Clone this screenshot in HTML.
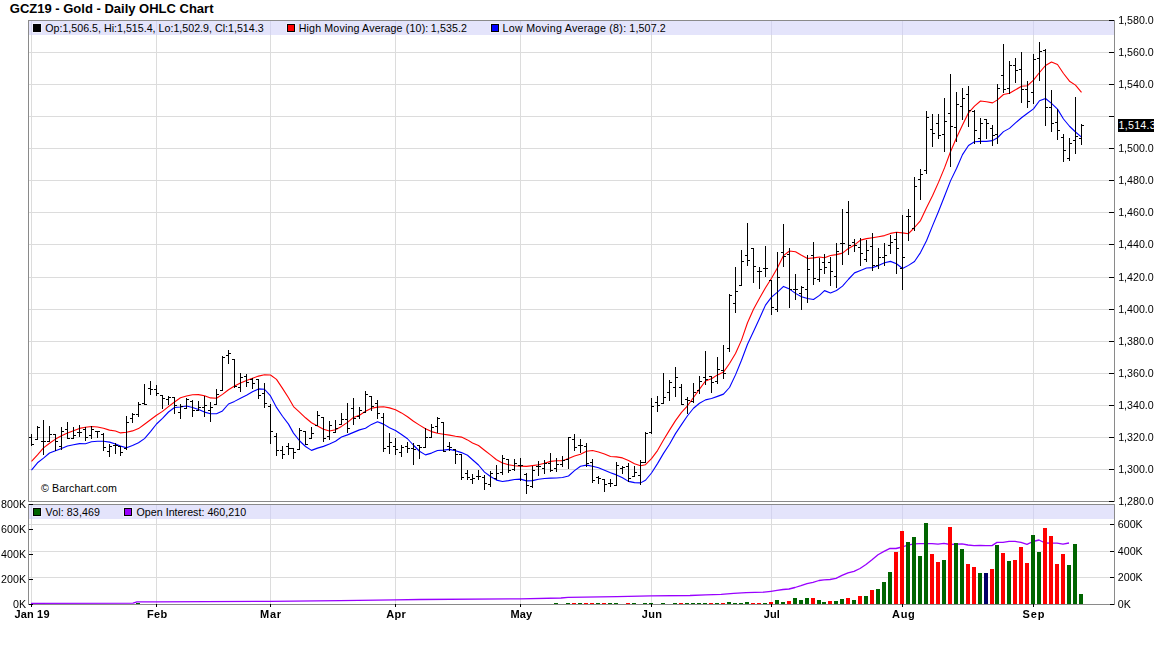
<!DOCTYPE html>
<html><head><meta charset="utf-8"><title>GCZ19 - Gold - Daily OHLC Chart</title>
<style>html,body{margin:0;padding:0;background:#fff;width:1156px;height:645px;overflow:hidden}</style>
</head><body>
<svg width="1156" height="645" viewBox="0 0 1156 645" style="display:block"><rect width="1156" height="645" fill="#fff"/><rect x="29" y="52" width="1085" height="1" fill="#dcdcdc"/><rect x="29" y="84" width="1085" height="1" fill="#dcdcdc"/><rect x="29" y="116" width="1085" height="1" fill="#dcdcdc"/><rect x="29" y="148" width="1085" height="1" fill="#dcdcdc"/><rect x="29" y="180" width="1085" height="1" fill="#dcdcdc"/><rect x="29" y="212" width="1085" height="1" fill="#dcdcdc"/><rect x="29" y="244" width="1085" height="1" fill="#dcdcdc"/><rect x="29" y="277" width="1085" height="1" fill="#dcdcdc"/><rect x="29" y="309" width="1085" height="1" fill="#dcdcdc"/><rect x="29" y="341" width="1085" height="1" fill="#dcdcdc"/><rect x="29" y="373" width="1085" height="1" fill="#dcdcdc"/><rect x="29" y="405" width="1085" height="1" fill="#dcdcdc"/><rect x="29" y="437" width="1085" height="1" fill="#dcdcdc"/><rect x="29" y="469" width="1085" height="1" fill="#dcdcdc"/><rect x="31" y="21" width="1" height="480" fill="#dcdcdc"/><rect x="156" y="21" width="1" height="480" fill="#dcdcdc"/><rect x="270" y="21" width="1" height="480" fill="#dcdcdc"/><rect x="395" y="21" width="1" height="480" fill="#dcdcdc"/><rect x="520" y="21" width="1" height="480" fill="#dcdcdc"/><rect x="651" y="21" width="1" height="480" fill="#dcdcdc"/><rect x="771" y="21" width="1" height="480" fill="#dcdcdc"/><rect x="902" y="21" width="1" height="480" fill="#dcdcdc"/><rect x="1033" y="21" width="1" height="480" fill="#dcdcdc"/><rect x="29" y="21" width="1085" height="14" fill="#e4e4fb"/><rect x="31" y="21" width="1" height="14" fill="#d4d4ee"/><rect x="156" y="21" width="1" height="14" fill="#d4d4ee"/><rect x="270" y="21" width="1" height="14" fill="#d4d4ee"/><rect x="395" y="21" width="1" height="14" fill="#d4d4ee"/><rect x="520" y="21" width="1" height="14" fill="#d4d4ee"/><rect x="651" y="21" width="1" height="14" fill="#d4d4ee"/><rect x="771" y="21" width="1" height="14" fill="#d4d4ee"/><rect x="902" y="21" width="1" height="14" fill="#d4d4ee"/><rect x="1033" y="21" width="1" height="14" fill="#d4d4ee"/><rect x="32" y="23" width="10" height="10" fill="#efeffd"/><rect x="33" y="24" width="8" height="8" fill="#000"/><rect x="34" y="25" width="6" height="6" fill="#000"/><rect x="286" y="23" width="10" height="10" fill="#efeffd"/><rect x="287" y="24" width="8" height="8" fill="#000"/><rect x="288" y="25" width="6" height="6" fill="#ff0000"/><rect x="490" y="23" width="10" height="10" fill="#efeffd"/><rect x="491" y="24" width="8" height="8" fill="#000"/><rect x="492" y="25" width="6" height="6" fill="#0000ff"/><g style="font-family:'Liberation Sans',Arial,sans-serif;font-size:10.667px" fill="#000"><text x="45.2" y="32" textLength="218.4" lengthAdjust="spacing">Op:1,506.5, Hi:1,515.4, Lo:1,502.9, Cl:1,514.3</text><text x="298.7" y="32" textLength="129.6" lengthAdjust="spacing">High Moving Average (10):</text><text x="430.8" y="32" textLength="36.2" lengthAdjust="spacing">1,535.2</text><text x="502.6" y="32" textLength="123.5" lengthAdjust="spacing">Low Moving Average (8):</text><text x="629.3" y="32" textLength="36.5" lengthAdjust="spacing">1,507.2</text><text x="40.9" y="492" textLength="76.0" lengthAdjust="spacing">© Barchart.com</text></g><g clip-path="url(#pc)"><polyline points="31.5,461.40 37.5,454.90 43.5,447.90 49.5,443.30 55.5,439.10 61.5,435.80 67.5,433.00 73.5,430.70 79.5,428.40 85.5,427.30 91.5,426.50 97.5,427.00 103.5,428.30 109.5,430.10 115.5,431.00 120.5,432.90 126.5,432.30 132.5,430.90 138.5,428.60 144.5,424.30 150.5,419.80 156.5,415.20 162.5,411.40 168.5,406.60 174.5,402.00 180.5,397.80 186.5,396.00 192.5,394.70 198.5,394.60 204.5,395.80 210.5,397.90 216.5,398.30 222.5,394.40 228.5,389.80 234.5,386.00 240.5,382.90 246.5,380.50 252.5,378.30 258.5,376.10 264.5,374.80 270.5,375.00 276.5,379.40 282.5,388.40 288.5,397.70 293.5,406.60 299.5,412.10 305.5,417.80 311.5,422.70 317.5,425.90 323.5,429.30 329.5,431.00 335.5,429.70 341.5,426.40 347.5,422.40 353.5,417.40 359.5,415.30 365.5,411.30 371.5,408.20 377.5,407.10 383.5,406.70 389.5,407.90 395.5,409.70 401.5,412.90 407.5,416.80 413.5,421.30 419.5,425.10 425.5,428.80 431.5,431.60 437.5,433.30 443.5,434.20 449.5,435.10 455.5,436.20 461.5,437.10 467.5,439.90 472.5,443.00 478.5,445.50 484.5,450.20 490.5,454.90 496.5,459.70 502.5,463.00 508.5,464.70 514.5,465.70 520.5,466.10 526.5,466.40 532.5,465.60 538.5,464.70 544.5,463.20 550.5,461.40 556.5,460.70 562.5,460.80 568.5,458.60 574.5,456.10 580.5,454.20 586.5,451.20 592.5,450.50 598.5,452.00 604.5,453.90 610.5,456.50 616.5,456.90 622.5,457.90 628.5,460.50 634.5,463.70 640.5,465.80 645.5,464.70 651.5,458.60 657.5,450.60 663.5,440.00 669.5,430.10 675.5,420.60 681.5,412.40 687.5,405.80 693.5,397.50 699.5,389.10 705.5,381.00 711.5,378.80 717.5,374.90 723.5,372.10 729.5,363.50 735.5,353.50 741.5,340.10 747.5,322.70 753.5,309.20 759.5,298.30 765.5,287.80 771.5,278.20 777.5,267.70 783.5,255.60 789.5,251.00 795.5,251.70 801.5,255.30 807.5,258.50 813.5,257.90 819.5,257.00 824.5,257.80 830.5,255.50 836.5,254.60 842.5,253.10 848.5,248.40 854.5,244.90 860.5,240.10 866.5,238.60 872.5,237.70 878.5,236.70 884.5,235.60 890.5,233.40 896.5,232.30 902.5,232.90 908.5,233.70 914.5,227.50 920.5,220.60 926.5,207.70 932.5,195.80 938.5,182.40 944.5,167.90 950.5,151.80 956.5,137.80 962.5,125.10 968.5,112.80 974.5,106.10 980.5,101.00 986.5,101.80 992.5,102.90 997.5,99.90 1003.5,94.50 1009.5,93.20 1015.5,89.80 1021.5,86.20 1027.5,85.70 1033.5,80.10 1039.5,72.50 1045.5,65.50 1051.5,62.00 1057.5,64.50 1063.5,73.50 1069.5,81.20 1075.5,85.10 1081.5,92.30" fill="none" stroke="#ff0000" stroke-width="1.1" stroke-linejoin="round"/><polyline points="31.5,470.20 37.5,462.80 43.5,458.10 49.5,453.00 55.5,450.70 61.5,448.40 67.5,446.00 73.5,444.75 79.5,443.62 85.5,443.75 91.5,441.75 97.5,441.25 103.5,441.25 109.5,442.12 115.5,444.00 120.5,446.12 126.5,447.75 132.5,445.50 138.5,442.75 144.5,438.62 150.5,431.62 156.5,424.00 162.5,418.38 168.5,412.00 174.5,407.50 180.5,407.00 186.5,406.00 192.5,407.50 198.5,409.50 204.5,412.12 210.5,413.75 216.5,413.75 222.5,410.88 228.5,404.00 234.5,401.38 240.5,398.25 246.5,395.25 252.5,391.75 258.5,388.88 264.5,389.25 270.5,395.88 276.5,407.38 282.5,416.25 288.5,424.12 293.5,433.12 299.5,440.75 305.5,446.50 311.5,450.38 317.5,448.12 323.5,446.38 329.5,444.00 335.5,441.25 341.5,437.00 347.5,434.88 353.5,432.38 359.5,429.88 365.5,428.25 371.5,424.38 377.5,421.75 383.5,424.12 389.5,427.75 395.5,430.50 401.5,434.50 407.5,438.75 413.5,445.25 419.5,451.25 425.5,454.88 431.5,453.12 437.5,450.50 443.5,450.12 449.5,449.38 455.5,450.75 461.5,452.62 467.5,455.25 472.5,459.75 478.5,465.00 484.5,472.12 490.5,476.50 496.5,480.12 502.5,481.50 508.5,480.62 514.5,479.50 520.5,479.12 526.5,480.88 532.5,480.62 538.5,479.25 544.5,478.50 550.5,478.12 556.5,478.00 562.5,477.50 568.5,476.00 574.5,470.62 580.5,466.25 586.5,465.12 592.5,466.25 598.5,467.75 604.5,470.25 610.5,472.75 616.5,474.88 622.5,477.75 628.5,481.38 634.5,482.62 640.5,482.88 645.5,480.25 651.5,473.00 657.5,463.62 663.5,453.38 669.5,444.25 675.5,433.62 681.5,424.62 687.5,415.75 693.5,408.25 699.5,403.25 705.5,399.88 711.5,398.50 717.5,396.38 723.5,394.12 729.5,387.50 735.5,374.88 741.5,360.25 747.5,344.25 753.5,331.50 759.5,318.50 765.5,305.12 771.5,297.12 777.5,292.12 783.5,286.38 789.5,289.12 795.5,293.38 801.5,296.75 807.5,298.50 813.5,299.50 819.5,295.38 824.5,290.62 830.5,293.00 836.5,290.50 842.5,286.12 848.5,279.25 854.5,272.88 860.5,270.50 866.5,268.00 872.5,267.62 878.5,265.50 884.5,262.75 890.5,261.38 896.5,263.75 902.5,268.50 908.5,265.38 914.5,261.50 920.5,252.62 926.5,240.75 932.5,225.88 938.5,211.50 944.5,196.25 950.5,180.88 956.5,168.50 962.5,154.62 968.5,145.50 974.5,141.75 980.5,141.38 986.5,141.38 992.5,140.62 997.5,137.75 1003.5,131.62 1009.5,128.38 1015.5,122.88 1021.5,117.75 1027.5,113.25 1033.5,108.88 1039.5,100.75 1045.5,98.50 1051.5,103.38 1057.5,109.12 1063.5,119.00 1069.5,126.25 1075.5,132.00 1081.5,137.12" fill="none" stroke="#0000ff" stroke-width="1.1" stroke-linejoin="round"/></g><path d="M31 434h1v12h-1zM29 437h2v1h-2zM32 444h2v1h-2zM37 426h1v14h-1zM35 439h2v1h-2zM38 427h2v1h-2zM43 420h1v35h-1zM41 441h2v1h-2zM44 441h2v1h-2zM49 426h1v16h-1zM47 441h2v1h-2zM50 434h2v1h-2zM55 434h1v17h-1zM53 434h2v1h-2zM56 441h2v1h-2zM61 427h1v23h-1zM59 446h2v1h-2zM62 431h2v1h-2zM67 422h1v17h-1zM65 429h2v1h-2zM68 438h2v1h-2zM73 427h1v12h-1zM71 438h2v1h-2zM74 435h2v1h-2zM79 425h1v12h-1zM77 432h2v1h-2zM80 432h2v1h-2zM85 427h1v14h-1zM83 429h2v1h-2zM86 437h2v1h-2zM91 426h1v13h-1zM89 435h2v1h-2zM92 429h2v1h-2zM97 431h1v7h-1zM95 431h2v1h-2zM98 431h2v1h-2zM103 433h1v18h-1zM101 434h2v1h-2zM104 447h2v1h-2zM109 444h1v13h-1zM107 451h2v1h-2zM110 446h2v1h-2zM115 443h1v11h-1zM113 445h2v1h-2zM116 445h2v1h-2zM120 446h1v10h-1zM118 446h2v1h-2zM121 452h2v1h-2zM126 416h1v34h-1zM124 448h2v1h-2zM127 422h2v1h-2zM132 413h1v10h-1zM130 418h2v1h-2zM133 414h2v1h-2zM138 402h1v15h-1zM136 414h2v1h-2zM139 404h2v1h-2zM144 384h1v21h-1zM142 403h2v1h-2zM145 404h2v1h-2zM150 381h1v14h-1zM148 388h2v1h-2zM151 389h2v1h-2zM156 385h1v11h-1zM154 389h2v1h-2zM157 393h2v1h-2zM162 395h1v14h-1zM160 395h2v1h-2zM163 398h2v1h-2zM168 396h1v9h-1zM166 399h2v1h-2zM169 397h2v1h-2zM174 397h1v17h-1zM172 397h2v1h-2zM175 405h2v1h-2zM180 404h1v15h-1zM178 412h2v1h-2zM181 406h2v1h-2zM186 398h1v11h-1zM184 408h2v1h-2zM187 399h2v1h-2zM192 400h1v17h-1zM190 401h2v1h-2zM193 410h2v1h-2zM198 401h1v10h-1zM196 410h2v1h-2zM199 407h2v1h-2zM204 396h1v21h-1zM202 407h2v1h-2zM205 405h2v1h-2zM210 402h1v20h-1zM208 410h2v1h-2zM211 407h2v1h-2zM216 389h1v16h-1zM214 404h2v1h-2zM217 394h2v1h-2zM222 356h1v35h-1zM220 390h2v1h-2zM223 357h2v1h-2zM228 350h1v14h-1zM226 355h2v1h-2zM229 353h2v1h-2zM234 359h1v29h-1zM232 359h2v1h-2zM235 386h2v1h-2zM240 373h1v19h-1zM238 387h2v1h-2zM241 377h2v1h-2zM246 374h1v13h-1zM244 376h2v1h-2zM247 382h2v1h-2zM252 378h1v11h-1zM250 379h2v1h-2zM253 383h2v1h-2zM258 379h1v20h-1zM256 379h2v1h-2zM259 395h2v1h-2zM264 383h1v25h-1zM262 393h2v1h-2zM265 403h2v1h-2zM270 404h1v40h-1zM268 406h2v1h-2zM271 431h2v1h-2zM276 433h1v23h-1zM274 436h2v1h-2zM277 450h2v1h-2zM282 446h1v13h-1zM280 450h2v1h-2zM283 454h2v1h-2zM288 443h1v12h-1zM286 446h2v1h-2zM289 448h2v1h-2zM293 448h1v11h-1zM291 448h2v1h-2zM294 452h2v1h-2zM299 428h1v22h-1zM297 449h2v1h-2zM300 430h2v1h-2zM305 431h1v14h-1zM303 431h2v1h-2zM306 444h2v1h-2zM311 427h1v12h-1zM309 438h2v1h-2zM312 433h2v1h-2zM317 411h1v15h-1zM315 425h2v1h-2zM318 415h2v1h-2zM323 417h1v25h-1zM321 417h2v1h-2zM324 438h2v1h-2zM329 421h1v19h-1zM327 436h2v1h-2zM330 425h2v1h-2zM335 420h1v13h-1zM333 432h2v1h-2zM336 428h2v1h-2zM341 413h1v12h-1zM339 424h2v1h-2zM342 419h2v1h-2zM347 403h1v30h-1zM345 419h2v1h-2zM348 428h2v1h-2zM353 398h1v27h-1zM351 408h2v1h-2zM354 418h2v1h-2zM359 407h1v12h-1zM357 416h2v1h-2zM360 410h2v1h-2zM365 391h1v22h-1zM363 412h2v1h-2zM366 394h2v1h-2zM371 396h1v15h-1zM369 396h2v1h-2zM372 406h2v1h-2zM377 400h1v19h-1zM375 403h2v1h-2zM378 413h2v1h-2zM383 413h1v39h-1zM381 417h2v1h-2zM384 448h2v1h-2zM389 433h1v21h-1zM387 446h2v1h-2zM390 442h2v1h-2zM395 438h1v17h-1zM393 446h2v1h-2zM396 449h2v1h-2zM401 445h1v12h-1zM399 452h2v1h-2zM402 447h2v1h-2zM407 442h1v11h-1zM405 446h2v1h-2zM408 448h2v1h-2zM413 443h1v22h-1zM411 448h2v1h-2zM414 449h2v1h-2zM419 445h1v14h-1zM417 445h2v1h-2zM420 447h2v1h-2zM425 428h1v20h-1zM423 447h2v1h-2zM426 437h2v1h-2zM431 424h1v14h-1zM429 437h2v1h-2zM432 427h2v1h-2zM437 417h1v16h-1zM435 426h2v1h-2zM438 418h2v1h-2zM443 422h1v30h-1zM441 422h2v1h-2zM444 451h2v1h-2zM449 442h1v9h-1zM447 446h2v1h-2zM450 447h2v1h-2zM455 449h1v15h-1zM453 449h2v1h-2zM456 454h2v1h-2zM461 454h1v26h-1zM459 454h2v1h-2zM462 477h2v1h-2zM467 470h1v10h-1zM465 473h2v1h-2zM468 477h2v1h-2zM472 474h1v10h-1zM470 479h2v1h-2zM473 478h2v1h-2zM478 470h1v10h-1zM476 476h2v1h-2zM479 476h2v1h-2zM484 475h1v15h-1zM482 477h2v1h-2zM485 483h2v1h-2zM490 471h1v16h-1zM488 484h2v1h-2zM491 473h2v1h-2zM496 465h1v15h-1zM494 478h2v1h-2zM497 473h2v1h-2zM502 455h1v20h-1zM500 472h2v1h-2zM503 458h2v1h-2zM508 459h1v14h-1zM506 459h2v1h-2zM509 470h2v1h-2zM514 459h1v12h-1zM512 469h2v1h-2zM515 463h2v1h-2zM520 458h1v23h-1zM518 465h2v1h-2zM521 465h2v1h-2zM526 473h1v21h-1zM524 474h2v1h-2zM527 485h2v1h-2zM532 466h1v22h-1zM530 486h2v1h-2zM533 470h2v1h-2zM538 461h1v15h-1zM536 466h2v1h-2zM539 466h2v1h-2zM544 460h1v14h-1zM542 468h2v1h-2zM545 463h2v1h-2zM550 453h1v19h-1zM548 463h2v1h-2zM551 470h2v1h-2zM556 458h1v14h-1zM554 468h2v1h-2zM557 464h2v1h-2zM562 456h1v11h-1zM560 464h2v1h-2zM563 460h2v1h-2zM568 437h1v32h-1zM566 459h2v1h-2zM569 437h2v1h-2zM574 434h1v17h-1zM572 439h2v1h-2zM575 447h2v1h-2zM580 439h1v14h-1zM578 445h2v1h-2zM581 445h2v1h-2zM586 443h1v24h-1zM584 446h2v1h-2zM587 463h2v1h-2zM592 459h1v24h-1zM590 462h2v1h-2zM593 480h2v1h-2zM598 476h1v8h-1zM596 477h2v1h-2zM599 478h2v1h-2zM604 479h1v13h-1zM602 479h2v1h-2zM605 484h2v1h-2zM610 479h1v8h-1zM608 483h2v1h-2zM611 483h2v1h-2zM616 462h1v24h-1zM614 485h2v1h-2zM617 465h2v1h-2zM622 466h1v8h-1zM620 468h2v1h-2zM623 467h2v1h-2zM628 463h1v19h-1zM626 466h2v1h-2zM629 478h2v1h-2zM634 466h1v11h-1zM632 476h2v1h-2zM635 472h2v1h-2zM640 460h1v25h-1zM638 475h2v1h-2zM641 462h2v1h-2zM645 432h1v31h-1zM643 462h2v1h-2zM646 433h2v1h-2zM651 398h1v36h-1zM649 432h2v1h-2zM652 406h2v1h-2zM657 396h1v16h-1zM655 402h2v1h-2zM658 405h2v1h-2zM663 373h1v31h-1zM661 403h2v1h-2zM664 397h2v1h-2zM669 380h1v21h-1zM667 392h2v1h-2zM670 382h2v1h-2zM675 367h1v30h-1zM673 387h2v1h-2zM676 377h2v1h-2zM681 384h1v21h-1zM679 387h2v1h-2zM682 404h2v1h-2zM687 397h1v17h-1zM685 399h2v1h-2zM688 400h2v1h-2zM693 383h1v20h-1zM691 401h2v1h-2zM694 392h2v1h-2zM699 376h1v18h-1zM697 390h2v1h-2zM700 381h2v1h-2zM705 351h1v34h-1zM703 377h2v1h-2zM706 379h2v1h-2zM711 376h1v17h-1zM709 376h2v1h-2zM712 382h2v1h-2zM717 357h1v27h-1zM715 381h2v1h-2zM718 369h2v1h-2zM723 345h1v34h-1zM721 370h2v1h-2zM724 373h2v1h-2zM729 294h1v58h-1zM727 348h2v1h-2zM730 295h2v1h-2zM735 267h1v46h-1zM733 303h2v1h-2zM736 291h2v1h-2zM741 250h1v36h-1zM739 285h2v1h-2zM742 261h2v1h-2zM747 223h1v43h-1zM745 255h2v1h-2zM748 260h2v1h-2zM753 248h1v35h-1zM751 248h2v1h-2zM754 266h2v1h-2zM759 267h1v22h-1zM757 271h2v1h-2zM760 271h2v1h-2zM765 246h1v31h-1zM763 268h2v1h-2zM766 268h2v1h-2zM771 280h1v35h-1zM769 280h2v1h-2zM772 307h2v1h-2zM777 252h1v60h-1zM775 309h2v1h-2zM778 277h2v1h-2zM783 224h1v43h-1zM781 252h2v1h-2zM784 256h2v1h-2zM789 248h1v60h-1zM787 254h2v1h-2zM790 289h2v1h-2zM795 274h1v26h-1zM793 289h2v1h-2zM796 289h2v1h-2zM801 286h1v24h-1zM799 293h2v1h-2zM802 287h2v1h-2zM807 255h1v48h-1zM805 289h2v1h-2zM808 269h2v1h-2zM813 242h1v43h-1zM811 255h2v1h-2zM814 278h2v1h-2zM819 258h1v24h-1zM817 279h2v1h-2zM820 269h2v1h-2zM824 254h1v20h-1zM822 262h2v1h-2zM825 267h2v1h-2zM830 257h1v29h-1zM828 262h2v1h-2zM831 271h2v1h-2zM836 243h1v45h-1zM834 276h2v1h-2zM837 251h2v1h-2zM842 209h1v56h-1zM840 243h2v1h-2zM843 243h2v1h-2zM848 201h1v54h-1zM846 212h2v1h-2zM849 245h2v1h-2zM854 239h1v13h-1zM852 242h2v1h-2zM855 245h2v1h-2zM860 238h1v28h-1zM858 247h2v1h-2zM861 253h2v1h-2zM866 240h1v22h-1zM864 259h2v1h-2zM867 250h2v1h-2zM872 233h1v38h-1zM870 246h2v1h-2zM873 265h2v1h-2zM878 248h1v21h-1zM876 265h2v1h-2zM879 257h2v1h-2zM884 243h1v23h-1zM882 257h2v1h-2zM885 255h2v1h-2zM890 235h1v19h-1zM888 245h2v1h-2zM891 242h2v1h-2zM896 232h1v42h-1zM894 239h2v1h-2zM897 248h2v1h-2zM902 215h1v75h-1zM900 268h2v1h-2zM903 257h2v1h-2zM908 209h1v32h-1zM906 216h2v1h-2zM909 216h2v1h-2zM914 177h1v54h-1zM912 228h2v1h-2zM915 186h2v1h-2zM920 169h1v31h-1zM918 179h2v1h-2zM921 174h2v1h-2zM926 111h1v63h-1zM924 170h2v1h-2zM927 117h2v1h-2zM932 114h1v33h-1zM930 129h2v1h-2zM933 133h2v1h-2zM938 114h1v25h-1zM936 123h2v1h-2zM939 135h2v1h-2zM944 98h1v54h-1zM942 134h2v1h-2zM945 121h2v1h-2zM950 74h1v93h-1zM948 113h2v1h-2zM951 126h2v1h-2zM956 92h1v50h-1zM954 127h2v1h-2zM957 104h2v1h-2zM962 88h1v32h-1zM960 106h2v1h-2zM963 98h2v1h-2zM968 86h1v41h-1zM966 94h2v1h-2zM969 110h2v1h-2zM974 110h1v34h-1zM972 111h2v1h-2zM975 130h2v1h-2zM980 118h1v26h-1zM978 138h2v1h-2zM981 123h2v1h-2zM986 119h1v20h-1zM984 119h2v1h-2zM987 123h2v1h-2zM992 125h1v21h-1zM990 128h2v1h-2zM993 135h2v1h-2zM997 84h1v60h-1zM995 134h2v1h-2zM998 88h2v1h-2zM1003 44h1v49h-1zM1001 75h2v1h-2zM1004 89h2v1h-2zM1009 61h1v33h-1zM1007 88h2v1h-2zM1010 65h2v1h-2zM1015 58h1v25h-1zM1013 65h2v1h-2zM1016 70h2v1h-2zM1021 52h1v51h-1zM1019 69h2v1h-2zM1022 89h2v1h-2zM1027 81h1v27h-1zM1025 89h2v1h-2zM1028 101h2v1h-2zM1033 54h1v50h-1zM1031 92h2v1h-2zM1034 59h2v1h-2zM1039 42h1v39h-1zM1037 58h2v1h-2zM1040 51h2v1h-2zM1045 49h1v77h-1zM1043 50h2v1h-2zM1046 107h2v1h-2zM1051 90h1v42h-1zM1049 107h2v1h-2zM1052 123h2v1h-2zM1057 109h1v31h-1zM1055 122h2v1h-2zM1058 130h2v1h-2zM1063 134h1v28h-1zM1061 137h2v1h-2zM1064 150h2v1h-2zM1069 138h1v23h-1zM1067 158h2v1h-2zM1070 143h2v1h-2zM1075 97h1v57h-1zM1073 140h2v1h-2zM1076 136h2v1h-2zM1081 124h1v21h-1zM1079 138h2v1h-2zM1082 125h2v1h-2z" fill="#000"/><defs><clipPath id="pc"><rect x="29" y="21" width="1085" height="480"/></clipPath><clipPath id="vc"><rect x="29" y="505" width="1085" height="99"/></clipPath></defs><rect x="28.5" y="20.5" width="1086" height="481" fill="none" stroke="#8a8a8a" stroke-width="1"/><rect x="1109" y="20" width="5" height="1" fill="#000"/><rect x="1109" y="52" width="5" height="1" fill="#000"/><rect x="1109" y="84" width="5" height="1" fill="#000"/><rect x="1109" y="116" width="5" height="1" fill="#000"/><rect x="1109" y="148" width="5" height="1" fill="#000"/><rect x="1109" y="180" width="5" height="1" fill="#000"/><rect x="1109" y="212" width="5" height="1" fill="#000"/><rect x="1109" y="244" width="5" height="1" fill="#000"/><rect x="1109" y="277" width="5" height="1" fill="#000"/><rect x="1109" y="309" width="5" height="1" fill="#000"/><rect x="1109" y="341" width="5" height="1" fill="#000"/><rect x="1109" y="373" width="5" height="1" fill="#000"/><rect x="1109" y="405" width="5" height="1" fill="#000"/><rect x="1109" y="437" width="5" height="1" fill="#000"/><rect x="1109" y="469" width="5" height="1" fill="#000"/><rect x="1109" y="501" width="5" height="1" fill="#000"/><g style="font-family:'Liberation Sans',Arial,sans-serif;font-size:10.667px;will-change:transform" fill="#000"><text x="1118.2" y="24.3">1,580.0</text><text x="1118.2" y="56.3">1,560.0</text><text x="1118.2" y="88.3">1,540.0</text><text x="1118.2" y="152.3">1,500.0</text><text x="1118.2" y="184.3">1,480.0</text><text x="1118.2" y="216.3">1,460.0</text><text x="1118.2" y="248.3">1,440.0</text><text x="1118.2" y="281.3">1,420.0</text><text x="1118.2" y="313.3">1,400.0</text><text x="1118.2" y="345.3">1,380.0</text><text x="1118.2" y="377.3">1,360.0</text><text x="1118.2" y="409.3">1,340.0</text><text x="1118.2" y="441.3">1,320.0</text><text x="1118.2" y="473.3">1,300.0</text><text x="1118.2" y="505.3">1,280.0</text></g><rect x="1118" y="119" width="36" height="13" fill="#000"/><defs><clipPath id="lc"><rect x="1118" y="119" width="36" height="13"/></clipPath></defs><text clip-path="url(#lc)" x="1118.6" y="129.3" textLength="37" lengthAdjust="spacing" style="font-family:'Liberation Sans',Arial,sans-serif;font-size:10.667px" fill="#fff">1,514.3</text><rect x="29" y="524" width="1085" height="1" fill="#dcdcdc"/><rect x="29" y="551" width="1085" height="1" fill="#dcdcdc"/><rect x="29" y="577" width="1085" height="1" fill="#dcdcdc"/><rect x="31" y="505" width="1" height="99" fill="#dcdcdc"/><rect x="156" y="505" width="1" height="99" fill="#dcdcdc"/><rect x="270" y="505" width="1" height="99" fill="#dcdcdc"/><rect x="395" y="505" width="1" height="99" fill="#dcdcdc"/><rect x="520" y="505" width="1" height="99" fill="#dcdcdc"/><rect x="651" y="505" width="1" height="99" fill="#dcdcdc"/><rect x="771" y="505" width="1" height="99" fill="#dcdcdc"/><rect x="902" y="505" width="1" height="99" fill="#dcdcdc"/><rect x="1033" y="505" width="1" height="99" fill="#dcdcdc"/><rect x="29" y="505" width="1085" height="14" fill="#e4e4fb"/><rect x="31" y="505" width="1" height="14" fill="#d4d4ee"/><rect x="156" y="505" width="1" height="14" fill="#d4d4ee"/><rect x="270" y="505" width="1" height="14" fill="#d4d4ee"/><rect x="395" y="505" width="1" height="14" fill="#d4d4ee"/><rect x="520" y="505" width="1" height="14" fill="#d4d4ee"/><rect x="651" y="505" width="1" height="14" fill="#d4d4ee"/><rect x="771" y="505" width="1" height="14" fill="#d4d4ee"/><rect x="902" y="505" width="1" height="14" fill="#d4d4ee"/><rect x="1033" y="505" width="1" height="14" fill="#d4d4ee"/><rect x="32" y="507" width="10" height="10" fill="#efeffd"/><rect x="33" y="508" width="8" height="8" fill="#000"/><rect x="34" y="509" width="6" height="6" fill="#006400"/><rect x="123" y="507" width="10" height="10" fill="#efeffd"/><rect x="124" y="508" width="8" height="8" fill="#000"/><rect x="125" y="509" width="6" height="6" fill="#9900ff"/><g style="font-family:'Liberation Sans',Arial,sans-serif;font-size:10.667px" fill="#000"><text x="45.5" y="516" textLength="54.5" lengthAdjust="spacing">Vol: 83,469</text><text x="136.5" y="516" textLength="109.6" lengthAdjust="spacing">Open Interest: 460,210</text></g><polyline clip-path="url(#vc)" points="31,603.3 133,603.2 137,601.8 156,601.8 270,601.3 340,600.7 395,599.9 420,599.5 520,598.8 561,598 568,597.4 617,596.6 651,595.8 690,595.5 705.6,594.9 721.2,594.3 733.6,593.3 746.1,592.6 764,592.2 771,591.3 777,590.4 783,589.5 789,589.0 795,587.5 801,585.7 807,583.6 813,582.3 819,580.5 824,579.8 830,579.5 836,578.3 842,575.4 848,572.8 854,571.3 860,568.5 866,564.5 872,559.8 878,554.8 884,551.4 890,548.3 896,548.5 902,547 908,545.1 914,543.9 920,543.6 926,543.6 932,543.6 938,544.2 944,543.4 950,544.5 956,544.2 962,543.8 968,545.0 974,545.6 980,545.4 986,545.6 992,545.6 997,542.4 1003,542.4 1009,541.3 1015,541.4 1021,542.4 1027,544.4 1033,541.5 1039,540.0 1045,543 1051,543.2 1057,543.2 1063,544.2 1069,543.0" fill="none" stroke="#9900ff" stroke-width="1.3" stroke-linejoin="round"/><rect x="136" y="603" width="4" height="1" fill="#006400"/><rect x="554" y="603" width="4" height="1" fill="#006400"/><rect x="566" y="603" width="4" height="1" fill="#006400"/><rect x="572" y="603" width="4" height="1" fill="#ff0000"/><rect x="578" y="603" width="4" height="1" fill="#006400"/><rect x="584" y="603" width="4" height="1" fill="#ff0000"/><rect x="590" y="603" width="4" height="1" fill="#ff0000"/><rect x="596" y="603" width="4" height="1" fill="#006400"/><rect x="602" y="603" width="4" height="1" fill="#ff0000"/><rect x="608" y="603" width="4" height="1" fill="#006400"/><rect x="614" y="603" width="4" height="1" fill="#006400"/><rect x="626" y="603" width="4" height="1" fill="#ff0000"/><rect x="632" y="603" width="4" height="1" fill="#006400"/><rect x="643" y="603" width="4" height="1" fill="#006400"/><rect x="649" y="603" width="4" height="1" fill="#006400"/><rect x="661" y="603" width="4" height="1" fill="#006400"/><rect x="673" y="603" width="4" height="1" fill="#006400"/><rect x="679" y="603" width="4" height="1" fill="#ff0000"/><rect x="685" y="603" width="4" height="1" fill="#006400"/><rect x="691" y="603" width="4" height="1" fill="#006400"/><rect x="697" y="603" width="4" height="1" fill="#006400"/><rect x="703" y="603" width="4" height="1" fill="#006400"/><rect x="709" y="603" width="4" height="1" fill="#ff0000"/><rect x="715" y="603" width="4" height="1" fill="#006400"/><rect x="721" y="603" width="4" height="1" fill="#ff0000"/><rect x="727" y="602" width="4" height="2" fill="#006400"/><rect x="733" y="603" width="4" height="1" fill="#006400"/><rect x="739" y="603" width="4" height="1" fill="#006400"/><rect x="745" y="602" width="4" height="2" fill="#006400"/><rect x="751" y="603" width="4" height="1" fill="#ff0000"/><rect x="757" y="603" width="4" height="1" fill="#ff0000"/><rect x="763" y="603" width="4" height="1" fill="#006400"/><rect x="769" y="602" width="4" height="2" fill="#ff0000"/><rect x="775" y="600" width="4" height="4" fill="#006400"/><rect x="781" y="602" width="4" height="2" fill="#006400"/><rect x="787" y="601" width="4" height="3" fill="#ff0000"/><rect x="793" y="598" width="4" height="6" fill="#006400"/><rect x="799" y="600" width="4" height="4" fill="#006400"/><rect x="805" y="598" width="4" height="6" fill="#006400"/><rect x="811" y="598" width="4" height="6" fill="#ff0000"/><rect x="817" y="600" width="4" height="4" fill="#006400"/><rect x="822" y="602" width="4" height="2" fill="#006400"/><rect x="828" y="601" width="4" height="3" fill="#ff0000"/><rect x="834" y="601" width="4" height="3" fill="#006400"/><rect x="840" y="599" width="4" height="5" fill="#006400"/><rect x="846" y="598" width="4" height="6" fill="#ff0000"/><rect x="852" y="600" width="4" height="4" fill="#006400"/><rect x="858" y="596" width="4" height="8" fill="#ff0000"/><rect x="864" y="596" width="4" height="8" fill="#006400"/><rect x="870" y="590" width="4" height="14" fill="#ff0000"/><rect x="876" y="589" width="4" height="15" fill="#006400"/><rect x="882" y="582" width="4" height="22" fill="#006400"/><rect x="888" y="572" width="4" height="32" fill="#006400"/><rect x="894" y="552" width="4" height="52" fill="#ff0000"/><rect x="900" y="531" width="4" height="73" fill="#ff0000"/><rect x="906" y="542" width="4" height="62" fill="#006400"/><rect x="912" y="537" width="4" height="67" fill="#006400"/><rect x="918" y="556" width="4" height="48" fill="#006400"/><rect x="924" y="523" width="4" height="81" fill="#006400"/><rect x="930" y="554" width="4" height="50" fill="#ff0000"/><rect x="936" y="562" width="4" height="42" fill="#ff0000"/><rect x="942" y="560" width="4" height="44" fill="#006400"/><rect x="948" y="527" width="4" height="77" fill="#ff0000"/><rect x="954" y="543" width="4" height="61" fill="#006400"/><rect x="960" y="549" width="4" height="55" fill="#006400"/><rect x="966" y="564" width="4" height="40" fill="#ff0000"/><rect x="972" y="567" width="4" height="37" fill="#ff0000"/><rect x="978" y="573" width="4" height="31" fill="#006400"/><rect x="984" y="573" width="4" height="31" fill="#000066"/><rect x="990" y="569" width="4" height="35" fill="#ff0000"/><rect x="995" y="545" width="4" height="59" fill="#006400"/><rect x="1001" y="553" width="4" height="51" fill="#ff0000"/><rect x="1007" y="561" width="4" height="43" fill="#006400"/><rect x="1013" y="560" width="4" height="44" fill="#ff0000"/><rect x="1019" y="547" width="4" height="57" fill="#ff0000"/><rect x="1025" y="563" width="4" height="41" fill="#ff0000"/><rect x="1031" y="535" width="4" height="69" fill="#006400"/><rect x="1037" y="552" width="4" height="52" fill="#006400"/><rect x="1043" y="528" width="4" height="76" fill="#ff0000"/><rect x="1049" y="536" width="4" height="68" fill="#ff0000"/><rect x="1055" y="564" width="4" height="40" fill="#ff0000"/><rect x="1061" y="554" width="4" height="50" fill="#ff0000"/><rect x="1067" y="565" width="4" height="39" fill="#006400"/><rect x="1073" y="544" width="4" height="60" fill="#006400"/><rect x="1079" y="594" width="4" height="10" fill="#006400"/><rect x="28.5" y="504.5" width="1086" height="100" fill="none" stroke="#8a8a8a" stroke-width="1"/><rect x="29" y="504" width="4" height="1" fill="#000"/><rect x="29" y="529" width="4" height="1" fill="#000"/><rect x="29" y="554" width="4" height="1" fill="#000"/><rect x="29" y="579" width="4" height="1" fill="#000"/><rect x="29" y="604" width="4" height="1" fill="#000"/><rect x="1110" y="524" width="4" height="1" fill="#000"/><rect x="1110" y="551" width="4" height="1" fill="#000"/><rect x="1110" y="577" width="4" height="1" fill="#000"/><rect x="1110" y="604" width="4" height="1" fill="#000"/><g style="font-family:'Liberation Sans',Arial,sans-serif;font-size:10.667px;will-change:transform" fill="#000"><text x="26" y="508.3" text-anchor="end">800K</text><text x="26" y="533.3" text-anchor="end">600K</text><text x="26" y="558.3" text-anchor="end">400K</text><text x="26" y="583.3" text-anchor="end">200K</text><text x="26" y="608.3" text-anchor="end">0K</text><text x="1117.8" y="528.3">600K</text><text x="1117.8" y="555.3">400K</text><text x="1117.8" y="581.3">200K</text><text x="1117.8" y="608.3">0K</text></g><rect x="31" y="604" width="1" height="3" fill="#000"/><rect x="156" y="604" width="1" height="3" fill="#000"/><rect x="270" y="604" width="1" height="3" fill="#000"/><rect x="395" y="604" width="1" height="3" fill="#000"/><rect x="520" y="604" width="1" height="3" fill="#000"/><rect x="651" y="604" width="1" height="3" fill="#000"/><rect x="771" y="604" width="1" height="3" fill="#000"/><rect x="902" y="604" width="1" height="3" fill="#000"/><rect x="1033" y="604" width="1" height="3" fill="#000"/><g style="font-family:'Liberation Sans',Arial,sans-serif;font-size:11px;font-weight:bold;will-change:transform" fill="#000"><text x="32.00" y="618" text-anchor="middle" textLength="35.05" lengthAdjust="spacing">Jan 19</text><text x="157.15" y="618" text-anchor="middle" textLength="20.26" lengthAdjust="spacing">Feb</text><text x="270.55" y="618" text-anchor="middle" textLength="20.86" lengthAdjust="spacing">Mar</text><text x="395.95" y="618" text-anchor="middle" textLength="19.45" lengthAdjust="spacing">Apr</text><text x="521.30" y="618" text-anchor="middle" textLength="21.81" lengthAdjust="spacing">May</text><text x="651.85" y="618" text-anchor="middle" textLength="20.26" lengthAdjust="spacing">Jun</text><text x="771.75" y="618" text-anchor="middle" textLength="16.21" lengthAdjust="spacing">Jul</text><text x="903.40" y="618" text-anchor="middle" textLength="22.59" lengthAdjust="spacing">Aug</text><text x="1033.40" y="618" text-anchor="middle" textLength="21.99" lengthAdjust="spacing">Sep</text></g><text x="9.8" y="13" style="font-family:'Liberation Sans',Arial,sans-serif;font-size:13px;font-weight:bold" fill="#000">GCZ19 - Gold - Daily OHLC Chart</text></svg>
</body></html>
